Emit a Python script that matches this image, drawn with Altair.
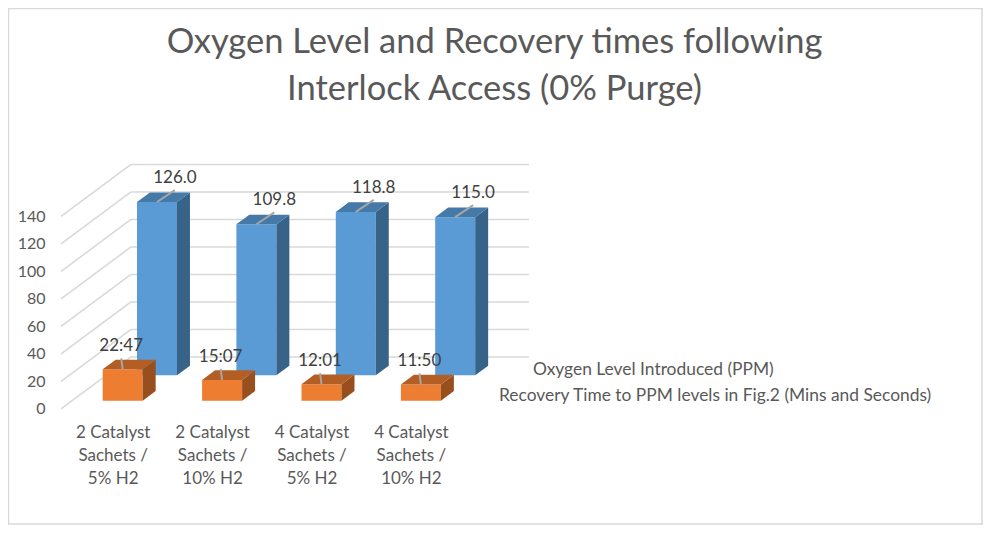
import json
import altair as alt
import pandas as pd

# ---- values ----
CATEGORIES = ["2 Catalyst\nSachets /\n5% H2", "2 Catalyst\nSachets /\n10% H2",
              "4 Catalyst\nSachets /\n5% H2", "4 Catalyst\nSachets /\n10% H2"]
OXYGEN = [126.0, 109.8, 118.8, 115.0]
RECOVERY = ["22:47", "15:07", "12:01", "11:50"]
TICKS = [0, 20, 40, 60, 80, 100, 120, 140]
LEGEND = ["Oxygen Level Introduced (PPM)",
          "Recovery Time to PPM levels in Fig.2 (Mins and Seconds)"]
TITLE = ["Oxygen Level and Recovery times following", "Interlock Access (0% Purge)"]

# ---- oblique projection of the depth axis, in scale units ----
KX, KY = 0.345, 18.5      # shift per series row
BAR_W, BAR_D = 0.4025, 0.378
WALL_L, WALL_R, Z_FRONT, Z_BACK = -0.51, 4.087, -0.32, 1.72

GRID = "#d9d9d9"
TEXT = "#595959"
LABEL = "#404040"
FONT = "Lato"

minutes = [int(t[:2]) + int(t[3:]) / 60 for t in RECOVERY]
series = [
    dict(z=1.0, vals=OXYGEN, labels=[f"{v:.1f}" for v in OXYGEN],
         front="#5b9bd5", top="#4479a8", side="#386389"),
    dict(z=0.0, vals=minutes, labels=RECOVERY,
         front="#ed7d31", top="#b25e25", side="#974f1e"),
]


def faces(s):
    fr, si, to, lead = [], [], [], []
    for i, v in enumerate(s["vals"]):
        x0 = i - BAR_W / 2 + KX * s["z"]
        x1 = x0 + BAR_W
        base = KY * s["z"]
        top = v + base
        fr.append(dict(x=x0, x2=x1, y=base, y2=top, c=s["front"]))
        for t in (0.0, BAR_D):
            si.append(dict(id=i, x=x1 + t * KX, y=top + t * KY, y2=base + t * KY, c=s["side"]))
            to.append(dict(id=i, x=x0 + t * KX, x2=x1 + t * KX, y=top + t * KY, c=s["top"]))
        xc = (x0 + x1) / 2
        if s["z"]:
            tipx, tipy = xc + 0.18, top + 8.7
        else:
            tipx, tipy = xc - 0.015, top + 8.0
        lead.append(dict(x=xc, x2=tipx, y=top, y2=tipy, label=s["labels"][i]))
    return map(pd.DataFrame, (fr, si, to, lead))


xs = alt.Scale(domain=[-1.154, 8.655], nice=False, zero=False)
ys = alt.Scale(domain=[-90.4, 205.6], nice=False, zero=False)
labels_js = json.dumps(CATEGORIES)
X_AXIS = alt.Axis(
    values=[0, 1, 2, 3], grid=False, domain=False, ticks=False, orient="bottom",
    offset=-101, labelPadding=0, labelOffset=-10, labelFontSize=17, labelColor=TEXT,
    labelFont=FONT, labelLineHeight=23, labelFlush=False, labelOverlap=False,
    labelBaseline="top", labelExpr=f"split({labels_js}[datum.value], '\\n')")
Y_AXIS = alt.Axis(
    values=TICKS, grid=False, domain=False, ticks=False, orient="left",
    offset=-37, labelPadding=0, labelOffset=8, labelFontSize=16, labelColor=TEXT,
    labelFont=FONT, labelFlush=False, labelOverlap=False)
X = alt.X("x:Q", scale=xs, axis=X_AXIS, title=None)
Y = alt.Y("y:Q", scale=ys, axis=Y_AXIS, title=None)
X2, Y2 = alt.X2("x2:Q"), alt.Y2("y2:Q")
C = alt.Color("c:N", scale=None)

# wall lines
wall = []
for k, v in enumerate(TICKS):
    wall.append(dict(x=WALL_L + Z_FRONT * KX, x2=WALL_L + Z_BACK * KX,
                     y=v + Z_FRONT * KY, y2=v + Z_BACK * KY))
    wall.append(dict(x=WALL_L + Z_BACK * KX, x2=WALL_R,
                     y=v + Z_BACK * KY, y2=v + Z_BACK * KY))
layers = [
    alt.Chart(pd.DataFrame(wall)).mark_rule(color=GRID, strokeWidth=1.6).encode(x=X, x2=X2, y=Y, y2=Y2)
]

label_layers = []
for s in series:
    fr, si, to, lead = faces(s)
    layers.append(alt.Chart(fr).mark_rect().encode(x=X, x2=X2, y=Y, y2=Y2, color=C))
    layers.append(alt.Chart(si).mark_area(orient="vertical").encode(x=X, y=Y, y2=Y2, color=C, detail="id:N"))
    layers.append(alt.Chart(to).mark_area(orient="horizontal").encode(x=X, x2=X2, y=Y, color=C, detail="id:N"))
    label_layers.append(alt.Chart(lead).mark_rule(color="#a6a6a6", strokeWidth=2).encode(x=X, x2=X2, y=Y, y2=Y2))
    label_layers.append(
        alt.Chart(lead).mark_text(font=FONT, fontSize=17, color=LABEL, baseline="bottom", dy=-3).encode(
            x=alt.X("x2:Q", scale=xs, axis=X_AXIS, title=None),
            y=alt.Y("y2:Q", scale=ys, axis=Y_AXIS, title=None), text="label:N")
    )
layers += label_layers

# legend entries: text only, as in the reference
leg = pd.DataFrame({"t": LEGEND, "row": [0, 1]})
for row, text in enumerate(LEGEND):
    layers.append(
        alt.Chart(leg[leg.row == row]).mark_text(font=FONT, fontSize=17.4, color=TEXT, align="left", baseline="middle").encode(
            x=alt.value([525, 491][row]), y=alt.value([252, 278][row]), text="t:N")
    )

# chart frame along the edges of the drawing
frame = pd.DataFrame({"a": [0]})
for enc in (
    dict(x=alt.value(0.5), y=alt.value(-110), y2=alt.value(407)),
    dict(x=alt.value(974), y=alt.value(-110), y2=alt.value(407)),
    dict(y=alt.value(-109.5), x=alt.value(0), x2=alt.value(975)),
    dict(y=alt.value(406), x=alt.value(0), x2=alt.value(975)),
):
    layers.append(alt.Chart(frame).mark_rule(color=GRID, strokeWidth=1.5).encode(**enc))

chart = alt.layer(*layers).resolve_scale(x="shared", y="shared").properties(
    width=975, height=407, padding={"left": 0, "right": 0, "top": 110, "bottom": 0},
    autosize=alt.AutoSizeParams(type="none"),
    title=alt.TitleParams(TITLE, font=FONT, fontSize=34.5, fontWeight="normal", color=TEXT,
                          anchor="middle", lineHeight=47, offset=-100, dx=-1),
).configure_view(stroke=None)

chart.save("out.html", embed_options={"renderer": "svg", "actions": False})
